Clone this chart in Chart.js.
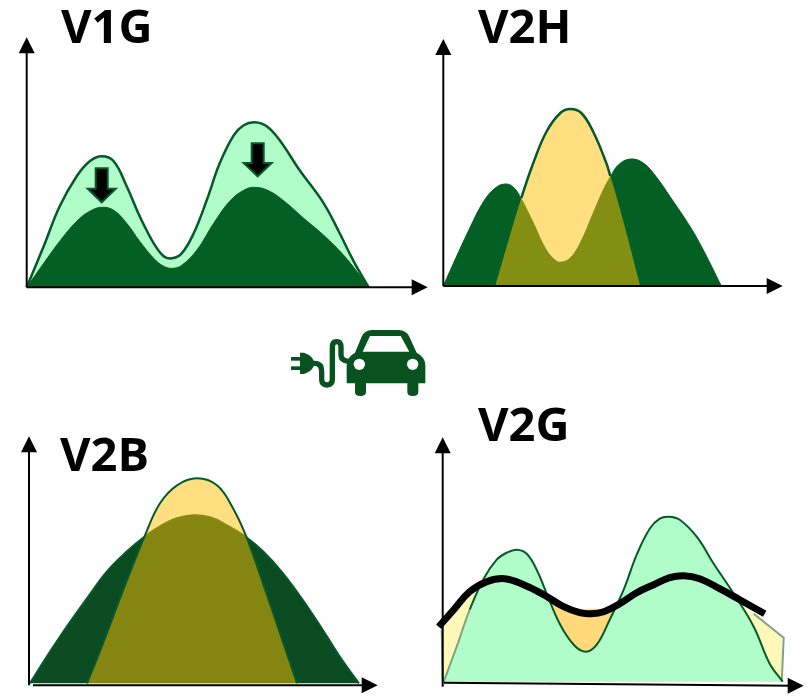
<!DOCTYPE html>
<html>
<head>
<meta charset="utf-8">
<title>V1G V2H V2B V2G</title>
<script src="https://cdn.jsdelivr.net/npm/chart.js@4"></script>
<style>
  html, body { margin: 0; padding: 0; background: #fff; }
  #page { position: relative; width: 808px; height: 698px; overflow: hidden; }
  #page canvas { position: absolute; }
  .title { position: absolute; font: bold 47px "Open Sans", sans-serif; line-height: 47px; color: #000; z-index: 5; }
  #car { position: absolute; left: 280px; top: 320px; }
</style>
</head>
<body>
<div id="page">
  <canvas id="v1g"></canvas>
  <canvas id="v2h"></canvas>
  <canvas id="v2b"></canvas>
  <canvas id="v2g"></canvas>
  <div class="title" style="left:61px;top:2px">V1G</div>
  <div class="title" style="left:478px;top:2px">V2H</div>
  <div class="title" style="left:60px;top:430px">V2B</div>
  <div class="title" style="left:478px;top:400px">V2G</div>
  <svg id="car" width="160" height="80" viewBox="0 0 480 240">
    <g fill="#07521f">
      <path d="M200 190 V135 Q200 112 225 98 L245 50 Q254 30 276 30 H356 Q378 30 388 50 L410 98 Q436 112 436 135 V190 H415 V216 Q415 228 398 228 Q382 228 382 216 V190 H258 V216 Q258 228 241 228 Q225 228 225 216 V190 Z"/>
      <path d="M60 98 H72 Q102 108 102 130 Q102 152 72 162 H60 Z"/>
      <rect x="33" y="111" width="30" height="11" />
      <rect x="33" y="139" width="30" height="11" />
    </g>
    <path d="M248 95 L270 48 H362 L388 95 Z" fill="#fff"/>
    <circle cx="238" cy="133" r="17" fill="#fff"/>
    <circle cx="398" cy="133" r="17" fill="#fff"/>
    <path d="M95 130 H105 Q125 130 125 155 V178 Q125 195 141 195 Q157 195 157 178 V82 Q157 65 170 65 Q183 65 183 82 V105 Q183 122 205 124" fill="none" stroke="#07521f" stroke-width="16"/>
  </svg>
</div>
<script>
// V1G: x is shared per curve, y is height above the time axis
var v1gPeakX = [0, 17, 33, 50, 63, 75, 87, 100, 113, 127, 137, 145, 155, 167, 180, 193, 207, 217, 228, 240, 253, 273, 297, 313, 327, 342];
var v1gPeakY = [0, 41, 81, 111, 126, 131, 126, 101, 71, 44, 31, 29, 34, 54, 87, 124, 152, 162, 165, 161, 147, 117, 84, 54, 26, 0];
var v1gFlatX = [0, 17, 33, 50, 63, 75, 87, 100, 113, 127, 137, 146, 155, 170, 187, 203, 217, 228, 243, 260, 277, 297, 317, 330, 342];
var v1gFlatY = [0, 24, 46, 66, 76, 80, 77, 64, 46, 29, 21, 19, 22, 37, 64, 86, 97, 100, 96, 84, 69, 52, 32, 16, 0];
var v1gArrowX = [75, 231];
var v1gArrowTop = [119, 144];
var v1gArrowTip = [85, 111];

// V2H
var v2hLoadX = [0, 13, 27, 40, 52, 62, 70, 78, 90, 103, 113, 119, 127, 137, 150, 160, 167, 175, 187, 200, 213, 227, 247, 260, 278];
var v2hLoadY = [0, 29, 59, 84, 98, 102, 99, 87, 63, 36, 25, 24, 28, 43, 73, 96, 109, 121, 127, 123, 109, 89, 59, 36, 0];
var v2hCarX = [52, 63, 78, 90, 103, 117, 127, 138, 150, 163, 167, 177, 197];
var v2hCarY = [0, 38, 88, 123, 154, 173, 177, 173, 154, 123, 110, 76, 0];

// V2B
var v2bLoadX = [1, 18, 38, 58, 78, 98, 116, 131, 148, 164, 181, 198, 216, 234, 254, 274, 294, 314, 330];
var v2bLoadY = [0, 27, 57, 85, 112, 132, 147, 157, 165, 168, 166, 158, 147, 132, 110, 83, 53, 22, 0];
var v2bCarX = [58, 74, 94, 116, 131, 148, 168, 188, 204, 218, 234, 251, 268];
var v2bCarY = [0, 40, 93, 148, 180, 198, 205, 198, 175, 145, 100, 50, 0];

// V2G
var v2gLoadX = [1, 14, 27, 41, 54, 64, 74, 84, 94, 104, 117, 131, 143, 154, 167, 181, 194, 207, 217, 226, 237, 254, 271, 291, 311, 327, 340];
var v2gLoadY = [0, 35, 72, 103, 122, 129, 132, 128, 112, 88, 58, 37, 30, 37, 62, 92, 127, 153, 163, 165, 162, 145, 118, 88, 55, 18, 0];
var v2gNetX = [-4, 11, 27, 44, 62, 81, 101, 121, 137, 147, 161, 177, 194, 211, 227, 241, 257, 277, 297, 322];
var v2gNetY = [55, 72, 90, 100, 103, 97, 87, 75, 69, 68, 70, 78, 89, 97, 104, 106, 103, 93, 82, 68];
var v2gStoreX = [0, -1, 11, 27, 60, 100, 121, 147, 177, 240, 300, 311, 341, 339];
var v2gStoreY = [0, 52, 66, 86, 95, 82, 72, 66, 74, 95, 76, 68, 44, 0];
var v2gDipX = [105, 121, 137, 147, 161, 172];
var v2gDipY = [84, 76, 73, 73, 73, 74];

var darkGreen = "#045f24";
var edgeGreen = "#07592a";
var lightGreen = "#b1fdca";
var gold = "rgba(255,192,0,0.5)";
var none = "rgba(0,0,0,0)";

function pts(xs, ys) {
  return xs.map(function (x, i) { return { x: x, y: ys[i] }; });
}

function area(xs, ys, fill, line, width, tension) {
  return {
    data: pts(xs, ys),
    backgroundColor: fill,
    borderColor: line,
    borderWidth: width,
    fill: "origin",
    pointRadius: 0,
    tension: tension === undefined ? 0.4 : tension
  };
}

// outline only, visible where show(x0, x1) says so
function edge(xs, ys, line, width, tension, show) {
  return {
    data: pts(xs, ys),
    borderColor: line,
    borderWidth: width,
    fill: false,
    pointRadius: 0,
    tension: tension,
    segment: {
      borderColor: function (ctx) {
        return show(ctx.p0.parsed.x, ctx.p1.parsed.x) ? line : none;
      }
    }
  };
}

function arrowHead(ctx, x, y, dx, dy) {
  // tip at x,y pointing along dx,dy
  ctx.beginPath();
  ctx.moveTo(x, y);
  ctx.lineTo(x - dx * 16 - dy * 8, y - dy * 16 - dx * 8);
  ctx.lineTo(x - dx * 16 + dy * 8, y - dy * 16 + dx * 8);
  ctx.closePath();
  ctx.fill();
}

var axesPlugin = {
  id: "arrowAxes",
  afterDatasetsDraw: function (chart, args, opts) {
    var c = chart.ctx, sx = chart.scales.x, sy = chart.scales.y;
    var a = opts.axes;
    c.save();
    c.strokeStyle = "#000";
    c.fillStyle = "#000";
    c.lineWidth = 2;
    var yx = sx.getPixelForValue(a.yAt);
    var yTip = sy.getPixelForValue(a.yTo);
    c.beginPath();
    c.moveTo(yx, sy.getPixelForValue(a.yFrom));
    c.lineTo(yx, yTip + 10);
    c.stroke();
    arrowHead(c, yx, yTip, 0, -1);
    var x0 = sx.getPixelForValue(a.xFrom), x1 = sx.getPixelForValue(a.xTo);
    var h0 = sy.getPixelForValue(a.xAt0), h1 = sy.getPixelForValue(a.xAt1);
    c.beginPath();
    c.moveTo(x0, h0);
    c.lineTo(x1 - 10, h1);
    c.stroke();
    arrowHead(c, x1, h1, 1, 0);
    // small down arrows for peak shaving
    if (opts.arrowX) {
      opts.arrowX.forEach(function (v, i) {
        var x = sx.getPixelForValue(v);
        var t = sy.getPixelForValue(opts.arrowTop[i]);
        var b = sy.getPixelForValue(opts.arrowTip[i]);
        var neck = t + (b - t) * 0.6;
        c.beginPath();
        c.moveTo(x - 6, t);
        c.lineTo(x + 6, t);
        c.lineTo(x + 6, neck);
        c.lineTo(x + 14, neck);
        c.lineTo(x, b);
        c.lineTo(x - 14, neck);
        c.lineTo(x - 6, neck);
        c.closePath();
        c.fillStyle = "#000";
        c.fill();
        c.strokeStyle = edgeGreen;
        c.lineWidth = 2;
        c.stroke();
      });
    }
    c.restore();
  }
};

function panel(id, box, layers, pluginOpts) {
  var cv = document.getElementById(id);
  cv.width = box.w;
  cv.height = box.h;
  cv.style.left = box.left + "px";
  cv.style.top = box.top + "px";
  // first layer is painted first, so give it the highest order
  layers.forEach(function (l, i) { l.order = layers.length - i; });
  var xMin = box.left - box.ox;
  var yMin = box.oy - (box.top + box.h);
  return new Chart(cv, {
    type: "line",
    data: { datasets: layers },
    options: {
      responsive: false,
      animation: false,
      layout: { padding: 0 },
      scales: {
        x: { type: "linear", display: false, min: xMin, max: xMin + box.w },
        y: { type: "linear", display: false, min: yMin, max: yMin + box.h }
      },
      plugins: {
        legend: { display: false },
        tooltip: { enabled: false },
        arrowAxes: pluginOpts
      }
    },
    plugins: [axesPlugin]
  });
}

panel("v1g", { left: 10, top: 30, w: 425, h: 270, ox: 26.7, oy: 287.3 }, [
  area(v1gPeakX, v1gPeakY, lightGreen, edgeGreen, 2.5),
  area(v1gFlatX, v1gFlatY, darkGreen, darkGreen, 1)
], {
  axes: { yAt: 0, yFrom: 0, yTo: 250, xFrom: 0, xTo: 401, xAt0: 0, xAt1: 0 },
  arrowX: v1gArrowX, arrowTop: v1gArrowTop, arrowTip: v1gArrowTip
});

panel("v2h", { left: 430, top: 30, w: 370, h: 270, ox: 443.3, oy: 286 }, [
  area(v2hLoadX, v2hLoadY, darkGreen, darkGreen, 1),
  area(v2hCarX, v2hCarY, gold, none, 0),
  edge(v2hCarX, v2hCarY, edgeGreen, 2.5, 0.4, function (a, b) { return a >= 78 && b <= 167; })
], {
  axes: { yAt: 0, yFrom: 0, yTo: 247, xFrom: 0, xTo: 339.4, xAt0: 0, xAt1: 0 }
});

panel("v2b", { left: 15, top: 430, w: 375, h: 268, ox: 29, oy: 683.3 }, [
  area(v2bLoadX, v2bLoadY, "#0b4b22", edgeGreen, 2),
  area(v2bCarX, v2bCarY, gold, edgeGreen, 2)
], {
  axes: { yAt: 0, yFrom: -2, yTo: 247, xFrom: 4, xTo: 348.7, xAt0: -2, xAt1: -2 }
});

panel("v2g", { left: 425, top: 430, w: 383, h: 268, ox: 442.7, oy: 681.7 }, [
  area(v2gStoreX, v2gStoreY, "#fff8b8", none, 0, 0),
  edge(v2gStoreX, v2gStoreY, "#7da583", 2, 0, function (a, b) { return b < 5 || a > 300; }),
  area(v2gDipX, v2gDipY, "#ffd97a", none, 0, 0),
  area(v2gLoadX, v2gLoadY, lightGreen, none, 0),
  edge(v2gLoadX, v2gLoadY, "#7da583", 2, 0.4, function (a, b) { return b <= 27; }),
  edge(v2gLoadX, v2gLoadY, edgeGreen, 2, 0.4, function (a, b) { return a >= 27; }),
  edge(v2gNetX, v2gNetY, "#000", 7, 0.4, function () { return true; })
], {
  axes: { yAt: 0, yFrom: -5, yTo: 244.4, xFrom: 1, xTo: 361, xAt0: -1, xAt1: -4 }
});
</script>
</body>
</html>
